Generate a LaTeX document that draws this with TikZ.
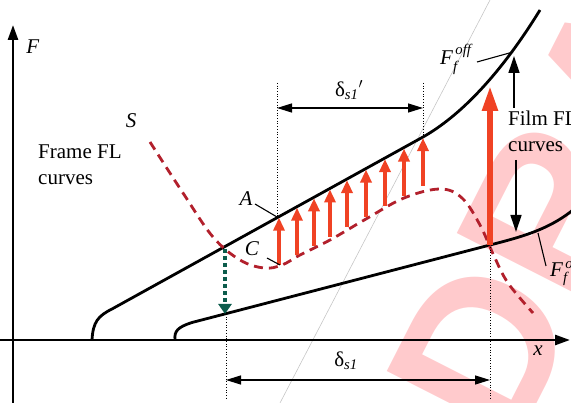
\documentclass[tikz,border=0pt]{standalone}
\usepackage{amsmath}
\usepackage{fontspec}
\setmainfont{Liberation Serif}
\setsansfont{Liberation Sans}
\usetikzlibrary{arrows.meta,positioning,calc}

\definecolor{pushred}{RGB}{240,66,36}
\definecolor{surfred}{RGB}{178,32,44}
\definecolor{dropgreen}{RGB}{12,92,76}
\definecolor{stampink}{RGB}{255,202,204}

\begin{document}
\begin{tikzpicture}[
  x=1pt, y=-1pt,
  lbl/.style={font=\fontsize{21}{26}\selectfont, inner sep=0pt},
  axis/.style={line width=2.6pt, -{Triangle[length=15pt,width=10pt]}},
  flcurve/.style={line width=2.8pt},
  surf/.style={line width=2.8pt, surfred, dash pattern=on 9pt off 6pt},
  push/.style={pushred, line width=4pt, -{Triangle[length=13pt,width=11pt]}},
  bigpush/.style={pushred, line width=5.5pt, -{Triangle[length=25pt,width=15pt]}},
  drop/.style={dropgreen, line width=4pt, dash pattern=on 4pt off 3pt,
    -{Triangle[length=10pt,width=13pt]}},
  guide/.style={line width=0.7pt, dotted},
  dimarrow/.style={line width=1.3pt,
    {Triangle[length=15pt,width=9pt]}-{Triangle[length=15pt,width=9pt]}},
  tag/.style={line width=1.3pt, -{Triangle[length=17pt,width=11pt]}},
  leader/.style={line width=1.1pt}
]
\useasboundingbox (0,0) rectangle (571,403);

% Watermark
\node[font=\sffamily\bfseries\fontsize{215}{215}\selectfont, text=stampink,
  rotate=63, anchor=base west, inner sep=0pt] (stamp) at (512,452) {DRAFT};

% Guide line
\coordinate (gbot) at (280,403);
\coordinate (gtop) at (490,0);
\draw[gray!45, line width=0.6pt] (gbot) -- (gtop);

% Axes
\coordinate (ybot) at (13,403);
\coordinate (ytop) at (13,25);
\coordinate (xleft) at (0,340);
\coordinate (xright) at (570,340);
\draw[axis] (ybot) -- (ytop);
\draw[axis] (xleft) -- (xright);
\node[lbl] (lblF) at (33,47) {\textit{F}};
\node[lbl] (lblx) at (538,351) {\textit{x}};

% Frame FL curve
\coordinate (fr0) at (92,340);
\coordinate (fr1) at (112,309);
\coordinate (fr2) at (423,137);
\coordinate (froff) at (513,52);
\draw[flcurve] (fr0) .. controls (93,322) and (98,316) .. (fr1)
  -- (fr2) .. controls (460,116) and (500,75) .. (540,10);

% Film FL curve
\coordinate (fm0) at (175,340);
\coordinate (fm1) at (192,322.5);
\coordinate (fm2) at (490,245);
\draw[flcurve] (fm0) .. controls (174,331) and (178,327) .. (fm1)
  -- (fm2) .. controls (525,236) and (555,228) .. (582,202);

% Surface S
\draw[surf] plot[smooth, tension=0.6] coordinates {(150,142) (183,193)
  (213,237) (240,260) (264,268) (282,265) (300,255) (330,240) (366,219)
  (404,198) (440,189) (462,198) (480,225) (494,256) (508,283) (533,313)};

% Push arrows from C to A
\foreach \px/\pb in {279/265, 297/255, 314/246, 330/237, 347/227,
  366/217, 385/206, 404/196, 423/186}
  \draw[push] (\px,\pb) -- (\px,{309-0.553*(\px-112)+1});
\coordinate (pbase) at (490,245);
\coordinate (ptip) at (490,86);
\draw[bigpush] (pbase) -- (ptip);

% Drop arrow
\coordinate (dtop) at (225,249);
\coordinate (dbot) at (225,314);
\draw[drop] (dtop) -- (dbot);

% Dimension guides
\coordinate (g1t) at (277,83);
\coordinate (g1b) at (277,217);
\coordinate (g2t) at (423,83);
\coordinate (g2b) at (423,137);
\coordinate (g3t) at (226,314);
\coordinate (g3b) at (226,399);
\coordinate (g4t) at (490,247);
\coordinate (g4b) at (490,399);
\foreach \t/\b in {g1t/g1b, g2t/g2b, g3t/g3b, g4t/g4b}
  \draw[guide] (\t) -- (\b);

\draw[dimarrow] ($(g1t)+(0,25)$) coordinate (d1l) -- ($(g2t)+(0,25)$) coordinate (d1r);
\node[lbl] (dshort) at (349,90) {δ\textsubscript{\textit{s1}}$'$};
\draw[dimarrow] (226,380) coordinate (d2l) -- (490,380) coordinate (d2r);
\node[lbl] (dlong) at (346,361) {δ\textsubscript{\textit{s1}}};

% Labels
\node[lbl] (lblS) at (131,121) {\textit{S}};
\node[lbl, align=left, anchor=north west] (frame) at (38,145) {Frame FL\\curves};
\node[lbl] (lblA) at (246,199) {\textit{A}};
\node[lbl] (lblC) at (252,249) {\textit{C}};
\draw[leader] (255,204) -- (g1b);
\draw[leader] (267,258) -- (280,265);

\node[lbl, align=left, anchor=north west] (film) at (508,111) {Film FL\\curves};
\draw[tag] (film.north -| froff) ++(1,-3) coordinate (t1) -- ($(froff)+(1,4)$);
\coordinate (t2) at (516,160);
\coordinate (t2e) at (516,232);
\draw[tag] (t2) -- (t2e);

\node[lbl, anchor=base west] (foff) at (440,65)
  {$\textit{F}^{\,\textit{off}}_{\textit{f}}$};
\draw[leader] (477,62) -- (froff);
\node[lbl, anchor=base west] (fon) at (550,277)
  {$\textit{F}^{\,\textit{on}}_{\textit{f}}$};
\draw[leader] (538,233) -- (546,266);

\end{tikzpicture}
\end{document}
